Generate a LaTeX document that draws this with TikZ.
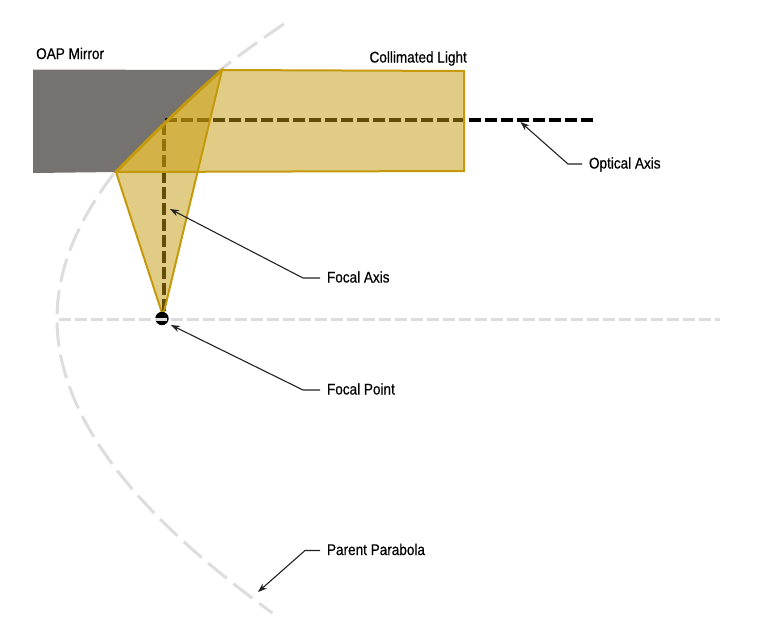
\documentclass[tikz,border=0pt]{standalone}
\usepackage{fontspec}
\setmainfont[FakeStretch=0.875,FakeBold=0.5]{Liberation Sans}
\usetikzlibrary{arrows.meta}
\definecolor{mirrorgrey}{HTML}{767270}
\definecolor{goldline}{HTML}{C49A0C}
\definecolor{axisgrey}{HTML}{DDDDDD}
\definecolor{leader}{HTML}{222222}
\tikzset{
  px/.style={x=1pt,y=-1pt},
  calloutlabel/.style={anchor=west,inner sep=0pt,outer sep=7pt,text height=9pt,text depth=0pt,font=\fontsize{15.5}{17}\selectfont,text=black},
  headlabel/.style={inner sep=0pt,text height=9pt,text depth=0pt,font=\fontsize{15.5}{17}\selectfont,text=black},
  leaderline/.style={draw=leader,line width=1.1pt,-{Stealth[length=9pt,width=6.5pt]}},
  parentcurve/.style={draw=axisgrey,line width=3pt,dash pattern=on 24pt off 8.5pt},
  parentaxis/.style={draw=axisgrey,line width=3pt,dash pattern=on 12pt off 4pt},
  beamaxis/.style={draw=black,line width=4pt,dash pattern=on 12pt off 4pt},
  beam/.style={fill=goldline,fill opacity=0.5,draw=goldline,line width=2pt},
}
\begin{document}
\begin{tikzpicture}[px]
\useasboundingbox (0,0) rectangle (780,625);
% named points
\coordinate (mirrorTop) at (222,70);
\coordinate (mirrorBot) at (116,172);
\coordinate (focus) at (162,318.5);
% parent parabola
\draw[parentcurve] plot[domain=-295:294,samples=120,smooth,variable=\t] ({57+\t/(360+0.11*abs(\t)+0.03*\t)*\t},{319+\t});
% mirror
\fill[mirrorgrey] (33,69.5) -- (mirrorTop) .. controls (187,101) and (151,136) .. (mirrorBot) -- (33,173) -- cycle;
% axes
\draw[beamaxis] (593.3,120.3) -- (164,120.3) -- (164,315);
% beams
\path[beam] (mirrorTop) -- (464,71) -- (464,171) -- (mirrorBot) .. controls (151,136) and (187,101) .. (mirrorTop) -- cycle;
\path[beam] (mirrorBot) -- (163,316) -- (mirrorTop) .. controls (187,101) and (151,136) .. (mirrorBot) -- cycle;
\draw[goldline,line width=3pt] (mirrorTop) .. controls (187,101) and (151,136) .. (mirrorBot);
% focal point
\node[circle,fill=black,minimum size=13.4pt,inner sep=0pt] (fp) at (focus) {};
\draw[parentaxis] (59.3,319) -- (720,319);
% labels
\node[headlabel,anchor=west] (oap) at (36,54.5) {OAP Mirror};
\node[headlabel,anchor=east] (coll) at (467,58) {Collimated Light};
\node[calloutlabel] (lOpt) at (582,164) {Optical Axis};
\node[calloutlabel] (lFocA) at (320,278) {Focal Axis};
\node[calloutlabel] (lFocP) at (320,390) {Focal Point};
\node[calloutlabel] (lPar) at (320,550.5) {Parent Parabola};
% leaders
\coordinate (tOpt) at (520.5,122);
\coordinate (tFocA) at (170,209);
\coordinate (tFocP) at (171,325);
\coordinate (tPar) at (258,592);
\draw[leaderline] (lOpt.west) -- (568,164) -- (tOpt);
\draw[leaderline] (lFocA.west) -- (303,278) -- (tFocA);
\draw[leaderline] (lFocP.west) -- (303,390) -- (tFocP);
\draw[leaderline] (lPar.west) -- (305,550.5) -- (tPar);
\end{tikzpicture}
\end{document}
